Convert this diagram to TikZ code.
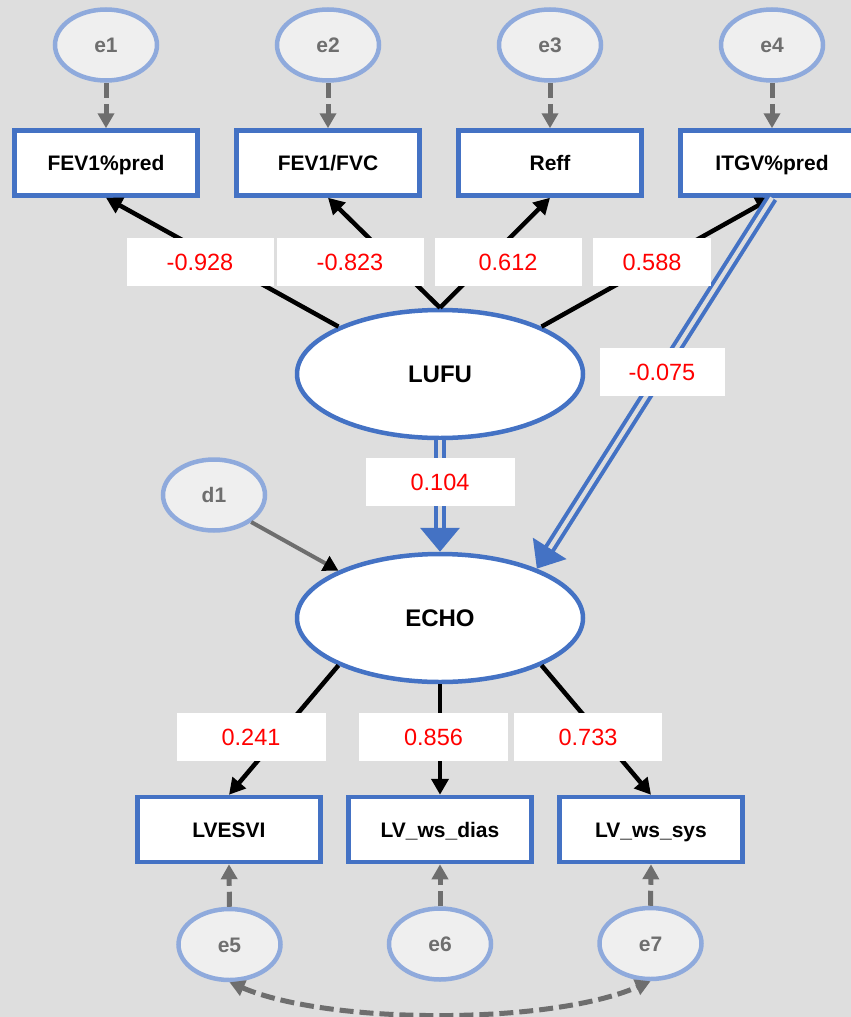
\documentclass[tikz,border=0pt]{standalone}
\usepackage{fontspec}
\setmainfont{Liberation Sans}
\usetikzlibrary{arrows.meta,shapes.geometric}

\definecolor{bgcol}{HTML}{DEDEDE}
\definecolor{boxblue}{HTML}{4472C4}
\definecolor{errblue}{HTML}{8FAADC}
\definecolor{errfill}{HTML}{EFEFEF}
\definecolor{arrgray}{HTML}{6E6E6E}

\tikzset{
  obsvar/.style={draw=boxblue, line width=4.5pt, fill=white, minimum width=183pt,
    minimum height=65pt, inner sep=0pt, text height=15pt, text depth=0pt,
    font=\bfseries\fontsize{21}{25}\selectfont},
  latvar/.style={ellipse, draw=boxblue, line width=4.5pt, fill=white, minimum width=286pt,
    minimum height=128pt, inner sep=0pt, text height=17pt, text depth=0pt,
    font=\bfseries\fontsize{24}{28}\selectfont},
  errvar/.style={ellipse, draw=errblue, line width=4.5pt, fill=errfill, text=arrgray,
    minimum width=102pt, minimum height=71pt, inner sep=0pt, text height=15pt, text depth=0pt,
    font=\bfseries\fontsize{21}{25}\selectfont},
  coef/.style={fill=white, text=red, minimum width=147pt, minimum height=48pt,
    inner sep=0pt, text height=17pt, text depth=0pt, font=\fontsize{23.5}{27}\selectfont},
  load/.style={line width=4.5pt, -{Triangle[length=16pt,width=17pt]}},
  errarr/.style={arrgray, line width=5pt, dash pattern=on 15pt off 6pt,
    -{Triangle[length=15pt,width=16pt]}},
  covarr/.style={arrgray, line width=5pt, dash pattern=on 14pt off 6pt,
    {Triangle[length=15pt,width=16pt]}-{Triangle[length=15pt,width=16pt]}},
  regpath/.style={boxblue, line width=4pt, double=bgcol, double distance=4pt,
    -{Triangle[length=24pt,width=39pt]}}
}

\begin{document}
\begin{tikzpicture}[x=1pt, y=-1pt]

\useasboundingbox (0,0) rectangle (851,1017);
\clip (0,0) rectangle (851,1017);
\fill[bgcol] (0,0) rectangle (851,1017);

% latent variables
\node[latvar] (lufu) at (440,374) {LUFU};
\node[latvar] (echo) at (440,618) {ECHO};
\node[errvar] (d1) at (214,495) {d1};

% lung function indicators
\node[obsvar] (fev) at (106,163) {FEV1\%pred};
\node[obsvar] (ratio) at (328,163) {FEV1/FVC};
\node[obsvar] (reff) at (550,163) {Reff};
\node[obsvar] (itgv) at (772,163) {ITGV\%pred};

\node[errvar] (e1) at (106,45) {e1};
\node[errvar] (e2) at (328,45) {e2};
\node[errvar] (e3) at (550,45) {e3};
\node[errvar] (e4) at (772,45) {e4};

% echo indicators
\node[obsvar] (lvesvi) at (229,829.5) {LVESVI};
\node[obsvar] (dias) at (440,829.5) {LV\_ws\_dias};
\node[obsvar] (sys) at (651,829.5) {LV\_ws\_sys};

\node[errvar] (e5) at (229.5,944.5) {e5};
\node[errvar] (e6) at (440,944) {e6};
\node[errvar] (e7) at (650.5,943.5) {e7};

% error terms
\foreach \e/\v in {e1/fev, e2/ratio, e3/reff, e4/itgv}
  \draw[errarr] (\e.south) -- (\v.north);
\foreach \e/\v in {e5/lvesvi, e6/dias, e7/sys}
  \draw[errarr] (\e.north) -- (\v.south);
\draw[covarr] (e5.south) .. controls (330,1025) and (550,1025) .. (e7.south);
\draw[arrgray, line width=4pt, -{Triangle[length=15pt,width=16pt,color=black]}] (d1.-36) -- (echo.155);

% loadings
\draw[load] (lufu.155) -- (fev.south);
\draw[load] (lufu.north) -- (ratio.south);
\draw[load] (lufu.north) -- (reff.south);
\draw[load] (lufu.25) -- (itgv.south);
\draw[load] (echo.205) -- (lvesvi.north);
\draw[load] (echo.south) -- (dias.north);
\draw[load] (echo.-25) -- (sys.north);

% structural paths
\draw[regpath] (lufu.south) -- (echo.north);
\draw[regpath] (itgv.south) -- (echo.27);

% estimates
\node[coef] (c1) at (200,262) {-0.928};
\node[coef] (c2) at (350,262) {-0.823};
\node[coef] (c3) at (508,262) {0.612};
\node[coef, minimum width=118pt] (c4) at (652,262) {0.588};
\node[coef, minimum width=125pt] (c5) at (662,372) {-0.075};
\node[coef, minimum width=149pt] (c6) at (440,482) {0.104};
\node[coef, minimum width=149pt] (c7) at (251,737) {0.241};
\node[coef, minimum width=149pt] (c8) at (433.5,737) {0.856};
\node[coef, minimum width=148pt] (c9) at (588,737) {0.733};

\end{tikzpicture}
\end{document}
